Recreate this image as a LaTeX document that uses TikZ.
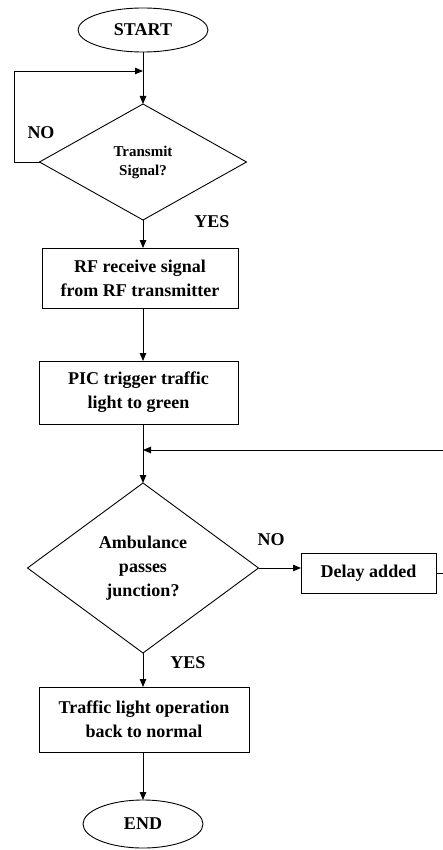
\documentclass[tikz,border=0pt]{standalone}
\usepackage{fontspec}
\setmainfont{Liberation Serif}
\usetikzlibrary{shapes.geometric,arrows.meta}
\begin{document}
\begin{tikzpicture}[x=1pt,y=-1pt,
  every node/.style={font=\bfseries\fontsize{18}{24}\selectfont, inner sep=0pt, outer sep=0pt},
  term/.style={draw, ellipse, line width=0.9pt},
  proc/.style={draw, rectangle, line width=0.9pt, align=center},
  dec/.style={draw, diamond, line width=0.9pt, align=center},
  lbl/.style={font=\bfseries\fontsize{18}{22}\selectfont},
  arr/.style={line width=0.9pt, -{Triangle[length=8pt,width=6.5pt]}},
  ln/.style={line width=0.9pt}]
\useasboundingbox (0,0) rectangle (442,850);
\node[term, minimum width=130pt, minimum height=44pt] (start) at (143,30) {START};
\node[dec, minimum width=207pt, minimum height=116pt,
  font=\bfseries\fontsize{15}{19}\selectfont] (d1) at (143,162)
  {Transmit\\Signal?};
\node[proc, minimum width=196pt, minimum height=60pt] (b1) at (140,278)
  {RF receive signal\\from RF transmitter};
\node[proc, minimum width=199pt, minimum height=63pt] (b2) at (138.5,392.5)
  {PIC trigger traffic\\light to green};
\node[dec, minimum width=231pt, minimum height=170pt] (d2) at (143,568)
  {Ambulance\\passes\\junction?};
\node[proc, minimum width=135pt, minimum height=40pt] (delay) at (368.5,573) {Delay added};
\node[proc, minimum width=210pt, minimum height=65pt] (b3) at (144,719.5)
  {Traffic light operation\\back to normal};
\node[term, minimum width=120pt, minimum height=48pt] (end) at (143,824) {END};
\coordinate (m1) at (143,71);
\coordinate (m2) at (143,450);
\coordinate (rt) at (446,450);
\node[lbl] (no1) at (41,133) {NO};
\node[lbl] (yes1) at (212,222) {YES};
\node[lbl] (no2) at (271,540) {NO};
\node[lbl] (yes2) at (188,663) {YES};
\draw[arr] (start.south) -- (d1.north);
\draw[arr] (d1.west) -- (14,162) -- (14,71) -- (m1);
\draw[arr] (d1.south) -- (d1.south |- b1.north);
\draw[arr] (b1.south -| d1.south) -- (d1.south |- b2.north);
\draw[arr] (b2.south -| d2.north) -- (d2.north);
\draw[arr] (d2.east) -- (delay.west |- d2.east);
\draw[ln] (delay.east) -- (rt |- delay.east) -- (rt);
\draw[arr] (rt) -- (m2);
\draw[arr] (d2.south) -- (d2.south |- b3.north);
\draw[arr] (b3.south -| end.north) -- (end.north);
\end{tikzpicture}
\end{document}
